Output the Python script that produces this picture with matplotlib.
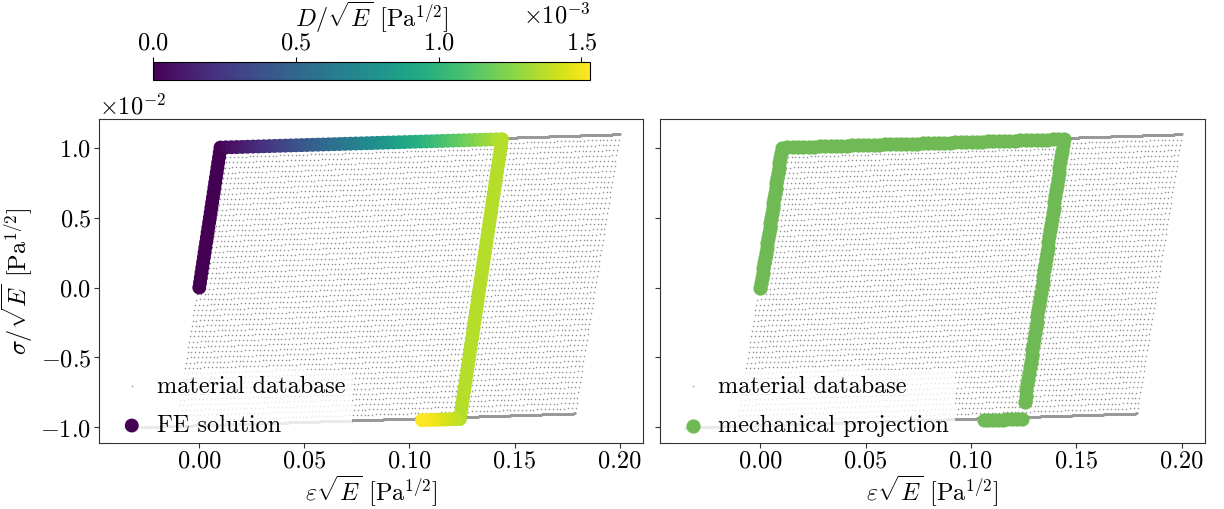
import numpy as np
import matplotlib
matplotlib.use("Agg")
import matplotlib.pyplot as plt

plt.rcParams['font.family'] = 'serif'
plt.rcParams['font.serif'] = ['cmr10']
plt.rcParams['mathtext.fontset'] = 'cm'
plt.rcParams['axes.formatter.use_mathtext'] = True
plt.rcParams['axes.unicode_minus'] = True

FS = 17.5

# material database: parallelogram corners (eps*sqrt(E), sigma/sqrt(E))
db_top_left = (0.0101, 1.005e-2)
db_top_right = (0.200, 1.095e-2)
db_bottom_right = (0.1787, -0.900e-2)
db_bottom_line_start = -0.036
db_rows = 54
db_cols = 105

# FE solution load path (turning points) and dissipation at those points
fe_eps = [0.0, 0.0101, 0.144, 0.124, 0.106]
fe_sig = [0.0, 1.000e-2, 1.060e-2, -0.940e-2, -0.948e-2]
fe_diss = [0.0, 0.0, 1.36e-3, 1.36e-3, 1.53e-3]
fe_steps = [28, 52, 52, 8]

# mechanical projection path (turning points), gap before reverse yielding
mp_eps = [[0.0, 0.0101, 0.144, 0.1255], [0.1240, 0.106]]
mp_sig = [[0.0, 1.000e-2, 1.060e-2, -0.815e-2], [-0.940e-2, -0.948e-2]]
mp_steps = [[28, 52, 46], [8]]

diss_max = 1.53e-3


def sample_path(xs, ys, steps, vals=None):
    px, py, pv = [], [], []
    for i, n in enumerate(steps):
        end = i == len(steps) - 1
        t = np.linspace(0, 1, n + 1 if end else n, endpoint=end)
        px.append(xs[i] + t * (xs[i + 1] - xs[i]))
        py.append(ys[i] + t * (ys[i + 1] - ys[i]))
        if vals is not None:
            pv.append(vals[i] + t * (vals[i + 1] - vals[i]))
    if vals is None:
        return np.concatenate(px), np.concatenate(py)
    return np.concatenate(px), np.concatenate(py), np.concatenate(pv)


def database():
    tl = np.array(db_top_left)
    tr = np.array(db_top_right)
    br = np.array(db_bottom_right)
    bl = tl + (br - tr)
    u = np.linspace(0, 1, db_cols)
    v = np.linspace(0, 1, db_rows)
    U, V = np.meshgrid(u, v)
    pts = bl[None, None, :] + U[..., None] * (br - bl) + V[..., None] * (tl - bl)
    gx, gy = pts[..., 0].ravel(), pts[..., 1].ravel()
    # dense boundary lines
    slope = (tr[1] - tl[1]) / (tr[0] - tl[0])
    tx = np.linspace(tl[0], tr[0], 1500)
    ty = tl[1] + slope * (tx - tl[0])
    bx = np.linspace(db_bottom_line_start, br[0], 1500)
    by = br[1] + slope * (bx - br[0])
    return gx, gy, np.concatenate([tx, bx]), np.concatenate([ty, by])


gx, gy, lx, ly = database()

fig = plt.figure(figsize=(12.24, 5.09), dpi=100)
ax1 = fig.add_axes([0.0809, 0.1297, 0.4444, 0.6365])
ax2 = fig.add_axes([0.5392, 0.1297, 0.4453, 0.6365], sharey=ax1)
cax = fig.add_axes([0.125, 0.8428, 0.357, 0.0354])

x1, y1, d1 = sample_path(fe_eps, fe_sig, fe_steps, fe_diss)
xs2, ys2 = [], []
for e, s, n in zip(mp_eps, mp_sig, mp_steps):
    a, b = sample_path(e, s, n)
    xs2.append(a)
    ys2.append(b)
x2, y2 = np.concatenate(xs2), np.concatenate(ys2)

for ax in (ax1, ax2):
    ax.scatter(gx, gy, s=1.3, c='0.58', linewidths=0, zorder=1,
               label='material database')
    ax.scatter(lx, ly, s=2.5, c='0.6', linewidths=0, zorder=1)

sc = ax1.scatter(x1, y1, c=d1, cmap='viridis', vmin=0, vmax=diss_max,
                 s=100, linewidths=0, zorder=2, label='FE solution')
ax2.scatter(x2, y2, c='#6fba55', s=105, linewidths=0, zorder=2,
            label='mechanical projection')

for ax in (ax1, ax2):
    ax.set_xlim(-0.0477, 0.2111)
    ax.set_xticks([0.0, 0.05, 0.10, 0.15, 0.20])
    ax.set_xticklabels(['0.00', '0.05', '0.10', '0.15', '0.20'])
    ax.set_xlabel(r'$\varepsilon\sqrt{E}$ [Pa$^{1/2}$]', fontsize=FS, labelpad=1)
    ax.tick_params(labelsize=FS, color='0.2', pad=2)
    for sp in ax.spines.values():
        sp.set_color('0.2')
    leg = ax.legend(loc='lower left', bbox_to_anchor=(0.02, 0.0), fontsize=FS,
                    framealpha=0.8, borderaxespad=0.0, borderpad=0.25,
                    handletextpad=0.4, labelspacing=0.7, handlelength=1.3)
    leg.get_frame().set_edgecolor('none')

ax1.set_ylim(-1.111e-2, 1.204e-2)
ax1.set_yticks([-1e-2, -0.5e-2, 0, 0.5e-2, 1e-2])
ax1.ticklabel_format(axis='y', style='sci', scilimits=(0, 0))
ax1.yaxis.get_offset_text().set_fontsize(FS)
ax1.set_ylabel(r'$\sigma/\sqrt{E}$ [Pa$^{1/2}$]', fontsize=FS)
plt.setp(ax2.get_yticklabels(), visible=False)
ax2.yaxis.get_offset_text().set_visible(False)

cb = fig.colorbar(sc, cax=cax, orientation='horizontal', ticklocation='top')
cb.set_ticks([0, 0.5e-3, 1.0e-3, 1.5e-3])
cb.formatter.set_powerlimits((0, 0))
cb.formatter.set_useMathText(True)
cb.update_ticks()
cax.tick_params(labelsize=FS, pad=2)
cax.xaxis.get_offset_text().set_fontsize(FS)
cb.set_label(r'$D/\sqrt{E}$ [Pa$^{1/2}$]', fontsize=FS, labelpad=4)
cb.outline.set_linewidth(0.8)

fig.savefig('out.png', dpi=100)
